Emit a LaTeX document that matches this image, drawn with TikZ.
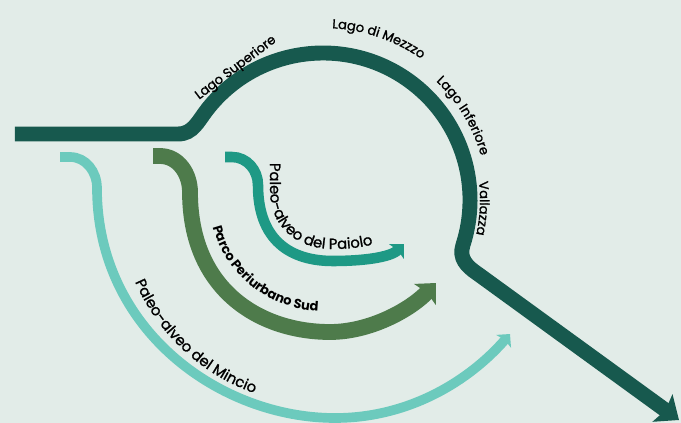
\documentclass[tikz,border=0pt]{standalone}
\usepackage{fontspec}
\setmainfont{Poppins}
\newfontfamily\eticfont{Poppins}[FakeBold=1.2]
\usetikzlibrary{arrows.meta,decorations.text}

\definecolor{sfondo}{HTML}{E2ECE8}
\definecolor{fiume}{HTML}{17594E}
\definecolor{parco}{HTML}{4E7B4B}
\definecolor{paiolo}{HTML}{1E9985}
\definecolor{mincio}{HTML}{6CCABD}

\newcommand{\etic}{\eticfont\fontsize{7.4}{9}\selectfont}
\newcommand{\eticalveo}{\eticfont\fontsize{8.4}{10}\selectfont}

\tikzset{
    fiumeline/.style={draw=fiume, line width=8.5pt, -{Stealth[length=11.5pt, width=19pt, inset=2pt]}},
    parcoline/.style={draw=parco, line width=9pt, -{Stealth[length=9pt, width=17pt, inset=1.5pt]}},
    paiololine/.style={draw=paiolo, line width=6pt, -{Stealth[length=6pt, width=11.5pt, inset=1pt]}},
    mincioline/.style={draw=mincio, line width=5.5pt, -{Stealth[length=5.5pt, width=11pt, inset=1pt]}},
    etichetta/.style={font=\etic, inner sep=0pt},
}

\begin{document}
\begin{tikzpicture}[x=0.02cm, y=0.02cm]
    \fill[sfondo] (0,0) rectangle (681,-423);
    \useasboundingbox (0,0) rectangle (681,-423);

    \draw[mincioline] (60,-157) -- (70,-157) to[out=0, in=90] (97,-188)
        .. controls (97,-330) and (220,-418) .. (335,-418)
        .. controls (410,-418) and (470,-380) .. (510,-334);
    \draw[parcoline] (153,-156) -- (160,-156) to[out=0, in=90] (190,-192)
        .. controls (190,-290) and (260,-332) .. (330,-332)
        .. controls (370,-332) and (410,-310) .. (436,-283);
    \draw[paiololine] (225,-157) -- (232,-157) to[out=0, in=90] (258,-185)
        .. controls (258,-240) and (290,-261) .. (333,-261)
        .. controls (360,-261) and (390,-258) .. (404,-244);
    \draw[fiumeline] (15,-134) -- (178,-134) to[out=0, in=232] (207.2,-109.5)
        arc[start angle=142, end angle=-18, radius=147]
        .. controls (459,-258) and (466,-266) .. (478,-274) -- (679,-420);

    \node[etichetta, rotate=37] (superiore) at (236,-68) {Lago Superiore};
    \path[decorate, decoration={text along path, text align=center,
        text={|\etic|Lago di Mezzzo}}]
        (323,-200) ++(101:172) arc[start angle=101, end angle=41, radius=172];
    \path[decorate, decoration={text along path, text align=center,
        text={|\etic|Lago Inferiore}}]
        (323,-200) ++(61:164) arc[start angle=61, end angle=1, radius=164];
    \path[decorate, decoration={text along path, text align=center,
        text={|\etic|Vallazza}}]
        (323,-200) ++(27:157) arc[start angle=27, end angle=-33, radius=157];

    \path[decorate, decoration={text along path,
        text={|\eticalveo|Paleo-alveo del Paiolo}}]
        (270,-163) -- (270,-190)
        .. controls (270,-228) and (298,-249) .. (333,-249)
        .. controls (352,-249) and (368,-247) .. (390,-239);
    \path[decorate, decoration={text along path, text align=center,
        text={|\fontsize{7.4}{9}\selectfont\bfseries|Parco Periurbano Sud}}]
        (322,-198) ++(188:113) arc[start angle=188, end angle=275, radius=113];
    \path[decorate, decoration={text along path, text align=center,
        text={|\eticalveo|Paleo-alveo del Mincio}}]
        (323,-200) ++(197:205) arc[start angle=197, end angle=257, radius=205];
\end{tikzpicture}
\end{document}
